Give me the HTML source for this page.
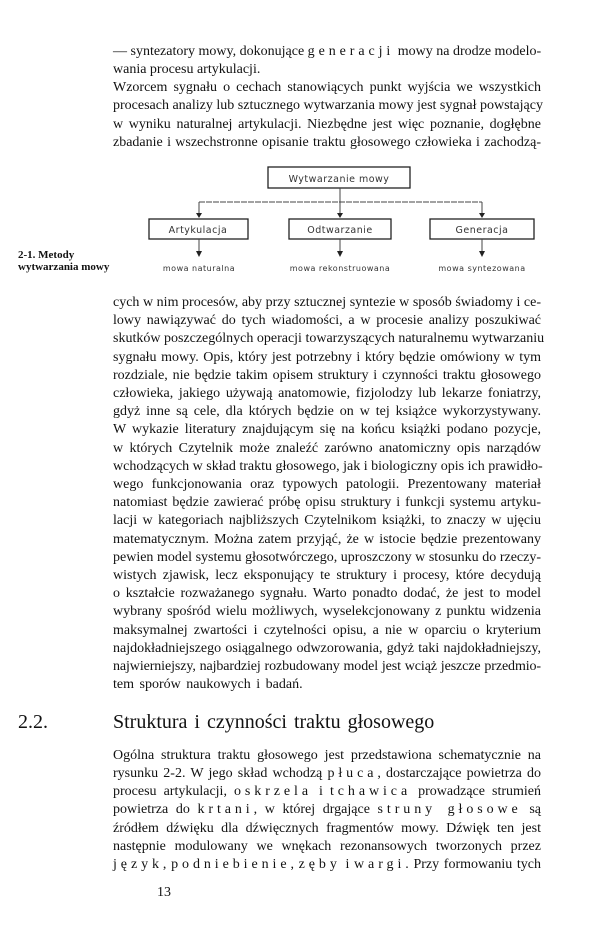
<!DOCTYPE html>
<html><head><meta charset="utf-8">
<style>
html,body{margin:0;padding:0;background:#fff;}
body{width:600px;height:925px;position:relative;overflow:hidden;font-family:"Liberation Serif",serif;color:#111;}
.l{position:absolute;left:113px;width:428px;height:18px;line-height:18px;font-size:14px;white-space:nowrap;text-align:justify;text-align-last:justify;}
.n{text-align:left;text-align-last:left;}
.s{letter-spacing:0.28em;}
.cap{position:absolute;left:18px;font-size:11px;line-height:12px;font-weight:bold;}
svg{position:absolute;left:0;top:0;}
svg text{font-family:"DejaVu Sans","Liberation Sans",sans-serif;fill:#333;}
</style></head><body>

<div class="l" style="top:43px">— syntezatory mowy, dokonujące <span class="s">generacji</span> mowy na drodze modelo-</div>
<div class="l n" style="top:61px">wania procesu artykulacji.</div>
<div class="l" style="top:79px">Wzorcem sygnału o cechach stanowiących punkt wyjścia we wszystkich</div>
<div class="l" style="top:97px">procesach analizy lub sztucznego wytwarzania mowy jest sygnał powstający</div>
<div class="l" style="top:116px">w wyniku naturalnej artykulacji. Niezbędne jest więc poznanie, dogłębne</div>
<div class="l" style="top:134px">zbadanie i wszechstronne opisanie traktu głosowego człowieka i zachodzą-</div>

<svg width="600" height="300" viewBox="0 0 600 300">
 <g stroke="#222" fill="none" stroke-width="1.3">
  <rect x="268" y="167" width="142" height="21"/>
  <rect x="149" y="219" width="99" height="20"/>
  <rect x="289" y="219" width="102" height="20"/>
  <rect x="430" y="219" width="104" height="20"/>
 </g>
 <g stroke="#444" stroke-width="1" fill="none">
  <line x1="340" y1="188" x2="340" y2="214"/>
  <line x1="199" y1="202" x2="482" y2="202" stroke-dasharray="6 1"/>
  <line x1="199" y1="202" x2="199" y2="214"/>
  <line x1="482" y1="202" x2="482" y2="214"/>
  <line x1="199" y1="239" x2="199" y2="252"/>
  <line x1="340" y1="239" x2="340" y2="252"/>
  <line x1="482" y1="239" x2="482" y2="252"/>
 </g>
 <g fill="#222">
  <polygon points="196,213 202,213 199,218"/>
  <polygon points="337,213 343,213 340,218"/>
  <polygon points="479,213 485,213 482,218"/>
  <polygon points="196,251 202,251 199,257"/>
  <polygon points="337,251 343,251 340,257"/>
  <polygon points="479,251 485,251 482,257"/>
 </g>
 <text x="339" y="182" font-size="9.5" text-anchor="middle" letter-spacing="0.5">Wytwarzanie mowy</text>
 <text x="198" y="233" font-size="9.5" text-anchor="middle" letter-spacing="0.5">Artykulacja</text>
 <text x="340" y="233" font-size="9.5" text-anchor="middle" letter-spacing="0.5">Odtwarzanie</text>
 <text x="482" y="233" font-size="9.5" text-anchor="middle" letter-spacing="0.5">Generacja</text>
 <text x="199" y="271" font-size="8" text-anchor="middle" letter-spacing="0.5">mowa naturalna</text>
 <text x="340" y="271" font-size="8" text-anchor="middle" letter-spacing="0.5">mowa rekonstruowana</text>
 <text x="482" y="271" font-size="8" text-anchor="middle" letter-spacing="0.5">mowa syntezowana</text>
</svg>

<div class="cap" style="top:249px">2-1. Metody</div>
<div class="cap" style="top:261px">wytwarzania mowy</div>

<div class="l" style="top:294px">cych w nim procesów, aby przy sztucznej syntezie w sposób świadomy i ce-</div>
<div class="l" style="top:312px">lowy nawiązywać do tych wiadomości, a w procesie analizy poszukiwać</div>
<div class="l" style="top:330px">skutków poszczególnych operacji towarzyszących naturalnemu wytwarzaniu</div>
<div class="l" style="top:349px">sygnału mowy. Opis, który jest potrzebny i który będzie omówiony w tym</div>
<div class="l" style="top:367px">rozdziale, nie będzie takim opisem struktury i czynności traktu głosowego</div>
<div class="l" style="top:385px">człowieka, jakiego używają anatomowie, fizjolodzy lub lekarze foniatrzy,</div>
<div class="l" style="top:403px">gdyż inne są cele, dla których będzie on w tej książce wykorzystywany.</div>
<div class="l" style="top:421px">W wykazie literatury znajdującym się na końcu książki podano pozycje,</div>
<div class="l" style="top:440px">w których Czytelnik może znaleźć zarówno anatomiczny opis narządów</div>
<div class="l" style="top:458px">wchodzących w skład traktu głosowego, jak i biologiczny opis ich prawidło-</div>
<div class="l" style="top:476px">wego funkcjonowania oraz typowych patologii. Prezentowany materiał</div>
<div class="l" style="top:494px">natomiast będzie zawierać próbę opisu struktury i funkcji systemu artyku-</div>
<div class="l" style="top:512px">lacji w kategoriach najbliższych Czytelnikom książki, to znaczy w ujęciu</div>
<div class="l" style="top:531px">matematycznym. Można zatem przyjąć, że w istocie będzie prezentowany</div>
<div class="l" style="top:549px">pewien model systemu głosotwórczego, uproszczony w stosunku do rzeczy-</div>
<div class="l" style="top:567px">wistych zjawisk, lecz eksponujący te struktury i procesy, które decydują</div>
<div class="l" style="top:585px">o kształcie rozważanego sygnału. Warto ponadto dodać, że jest to model</div>
<div class="l" style="top:603px">wybrany spośród wielu możliwych, wyselekcjonowany z punktu widzenia</div>
<div class="l" style="top:622px">maksymalnej zwartości i czytelności opisu, a nie w oparciu o kryterium</div>
<div class="l" style="top:640px">najdokładniejszego osiągalnego odwzorowania, gdyż taki najdokładniejszy,</div>
<div class="l" style="top:658px;letter-spacing:-0.1px">najwierniejszy, najbardziej rozbudowany model jest wciąż jeszcze przedmio-</div>
<div class="l n" style="top:676px;word-spacing:2px">tem sporów naukowych i badań.</div>

<div style="position:absolute;left:18px;top:710px;font-size:20px;line-height:24px;">2.2.</div>
<div style="position:absolute;left:113px;top:710px;font-size:20px;line-height:24px;word-spacing:2px;">Struktura i czynności traktu głosowego</div>

<div class="l" style="top:747px">Ogólna struktura traktu głosowego jest przedstawiona schematycznie na</div>
<div class="l" style="top:765px">rysunku 2-2. W jego skład wchodzą <span class="s">płuca</span>, dostarczające powietrza do</div>
<div class="l" style="top:783px">procesu artykulacji, <span class="s">oskrzela</span> i <span class="s">tchawica</span> prowadzące strumień</div>
<div class="l" style="top:801px">powietrza do <span class="s">krtani</span>, w której drgające <span class="s">struny głosowe</span> są</div>
<div class="l" style="top:820px">źródłem dźwięku dla dźwięcznych fragmentów mowy. Dźwięk ten jest</div>
<div class="l" style="top:838px">następnie modulowany we wnękach rezonansowych tworzonych przez</div>
<div class="l" style="top:856px"><span class="s">język</span>, <span class="s">podniebienie</span>, <span class="s">zęby</span> i <span class="s">wargi</span>. Przy formowaniu tych</div>

<div style="position:absolute;left:157px;top:884px;font-size:14px;line-height:18px;">13</div>
</body></html>
